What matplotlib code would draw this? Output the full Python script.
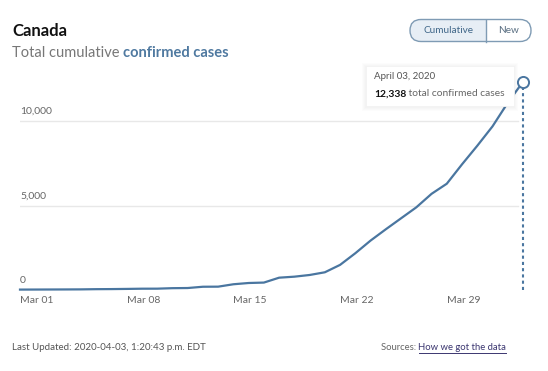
import matplotlib
matplotlib.use('Agg')
import matplotlib.pyplot as plt
from matplotlib.patches import FancyBboxPatch, Rectangle

plt.rcParams['font.family'] = ['Lato', 'DejaVu Sans']

# Canada, total cumulative confirmed cases, Mar 01 .. Apr 03 2020
days = list(range(34))
cases = [24, 27, 30, 33, 37, 49, 54, 64, 77, 79, 108, 117, 193, 198,
         340, 415, 440, 730, 790, 890, 1050, 1490, 2180, 2930, 3600,
         4250, 4900, 5700, 6300, 7450, 8550, 9700, 11100, 12338]
tick_days = [0, 7, 14, 21, 28]
tick_labels = ['Mar 01', 'Mar 08', 'Mar 15', 'Mar 22', 'Mar 29']
y_ticks = [0, 5000, 10000]
y_labels = ['0', '5,000', '10,000']

LINE = '#4a76a0'
GRAY = '#666666'
W, H = 548, 371

fig = plt.figure(figsize=(W / 100, H / 100), dpi=100)
fig.patch.set_facecolor('white')

# main plot area, in pixel terms: x 20..523, y 80..290
ax = fig.add_axes([20 / W, (H - 290) / H, 503 / W, 210 / H])
ax.set_xlim(0, 33)
ax.set_ylim(0, 12448)
for s in ax.spines.values():
    s.set_visible(False)
ax.set_yticks([])
for v in y_ticks[1:]:
    ax.axhline(v, xmax=0.99, color='#e8e8e8', lw=1, zorder=1)
for v, lbl in zip(y_ticks, y_labels):
    ax.annotate(lbl, (0, v), xytext=(0, 7), textcoords='offset points',
                ha='left', va='center', fontsize=7.5, color=GRAY)
ax.set_xticks(tick_days)
ax.set_xticklabels(tick_labels, ha='left', fontsize=7.5, color=GRAY)
ax.tick_params(axis='x', length=0, pad=4)

ax.plot(days, cases, color=LINE, lw=1.6, zorder=3, clip_on=False,
        solid_joinstyle='round')
ax.vlines(days[-1], 0, cases[-1], colors=LINE, linestyles=(0, (1.5, 1.5)),
          lw=1.5, zorder=2, clip_on=False)
ax.plot(days[-1], cases[-1], 'o', ms=8, mfc='white', mec=LINE, mew=1.4,
        zorder=4, clip_on=False)

# overlay for header, tooltip, footer (pixel coordinates)
deco = fig.add_axes([0, 0, 1, 1])
deco.set_xlim(0, W)
deco.set_ylim(H, 0)
deco.axis('off')
deco.patch.set_alpha(0)

fig.canvas.draw()
r = fig.canvas.get_renderer()


def run(x, y, parts, size, va='center'):
    # draw consecutive text pieces on one line
    items = []
    for txt, color, weight in parts:
        t = deco.text(x, y, txt, fontsize=size, color=color,
                      fontweight=weight, ha='left', va=va)
        bb = t.get_window_extent(r)
        items.append((t, x, x + bb.width))
        x += bb.width
    return items


deco.text(12, 30.5, 'Canada', fontsize=12, fontweight='bold',
          color='#111111', ha='left', va='center')
run(12, 53, [('Total cumulative ', '#777777', 'normal'),
             ('confirmed cases', '#4f79a0', 'bold')], 10.5)

# Cumulative / New toggle
BORDER = '#7f9bb4'
pill = FancyBboxPatch((410, 19.5), 121, 22,
                      boxstyle='round,pad=0,rounding_size=11',
                      fc='white', ec='none')
deco.add_patch(pill)
left = Rectangle((410, 19.5), 76, 22, fc='#e7eef5', ec='none')
deco.add_patch(left)
left.set_clip_path(pill)
deco.add_patch(FancyBboxPatch((410, 19.5), 121, 22,
                              boxstyle='round,pad=0,rounding_size=11',
                              fc='none', ec=BORDER, lw=1))
deco.plot([486, 486], [19.5, 41.5], color=BORDER, lw=1)
deco.text(448, 30.5, 'Cumulative', fontsize=7.2, color='#3f6688',
          ha='center', va='center')
deco.text(508.5, 30.5, 'New', fontsize=7.2, color='#5a6f82',
          ha='center', va='center')

# tooltip
for g in [4, 3, 2, 1]:
    deco.add_patch(Rectangle((366 - g, 66 - g + 1), 148 + 2 * g, 40 + 2 * g,
                             fc='black', alpha=0.012, ec='none'))
deco.add_patch(Rectangle((366, 66), 148, 40, fc='white', ec='#f2f2f2', lw=0.6))
deco.text(374, 76.5, 'April 03, 2020', fontsize=7, color='#555555',
          ha='left', va='center')
run(374, 94, [('{:,}'.format(cases[-1]), '#111111', 'bold'),
              (' total confirmed cases', '#666666', 'normal')], 7.4)

# footer
deco.text(12, 347.5, 'Last Updated: 2020-04-03, 1:20:43 p.m. EDT',
          fontsize=7, color='#555555', ha='left', va='center')
src = run(381, 347.5, [('Sources: ', '#666666', 'normal'),
                       ('How we got the data', '#3b3670', 'normal')], 6.85)
deco.plot([src[1][1], src[1][2]], [352.8, 352.8], color='#3b3670', lw=0.7)

fig.savefig('out.png', dpi=100, facecolor='white')
